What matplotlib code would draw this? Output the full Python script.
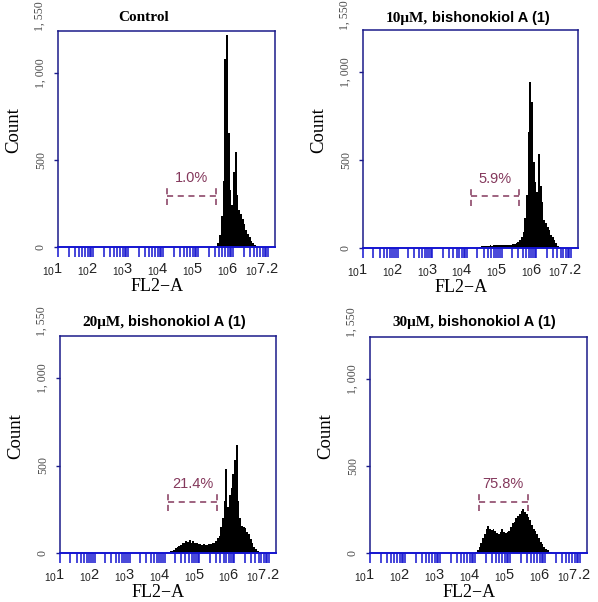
import numpy as np
import matplotlib
matplotlib.use("Agg")
import matplotlib.pyplot as plt
import matplotlib.transforms as mtransforms

# ---------------- data ----------------
BIN_W = 0.05                      # histogram bin width, in decades of FL2-A

ctrl_start = 5.45
ctrl_counts = [3, 8, 25, 70, 180, 380, 1080, 1215, 655, 330, 240, 430, 547, 300,
               210, 190, 160, 130, 100, 75, 55, 35, 22, 12, 5, 2]

c10_start = 4.35
c10_counts = [5, 10, 12, 14, 12, 14, 15, 14, 15, 16, 15, 16, 17, 16, 15, 16, 17,
              16, 18, 20, 22, 28, 35, 45, 60, 90, 170, 300, 660, 943, 830, 488,
              373, 316, 533, 352, 260, 162, 145, 120, 105, 75, 60, 48, 30, 12, 5]

c20_start = 4.05
c20_counts = [4, 8, 12, 14, 20, 28, 35, 40, 48, 55, 60, 68, 62, 72, 60, 66, 55,
              58, 50, 52, 48, 50, 47, 48, 50, 52, 55, 60, 70, 84, 100, 150, 200,
              300, 480, 265, 330, 372, 450, 534, 620, 300, 200, 155, 150, 145,
              120, 110, 80, 60, 35, 22, 10, 4]

c30_start = 4.00
c30_counts = [5, 15, 35, 55, 85, 110, 140, 155, 140, 130, 135, 125, 115, 110,
              120, 135, 120, 115, 118, 125, 150, 170, 180, 200, 215, 225, 240,
              250, 235, 225, 205, 190, 160, 140, 125, 110, 85, 65, 50, 35, 25,
              15, 8, 3]

titles_serif = ["Control", "10\u03bcM,", "20\u03bcM,", "30\u03bcM,"]
titles_sans = ["", "bishonokiol A (1)", "bishonokiol A (1)", "bishonokiol A (1)"]
gate_labels = ["1.0%", "5.9%", "21.4%", "75.8%"]
gate_lo_exp, gate_hi_exp = 4.1, 5.5
gate_y, gate_y_lo, gate_y_hi = 293, 240, 350
gate_label_y = 395

y_ticks = [0, 500, 1000]
y_tick_labels = ["0", "500", "1, 000"]
y_top_label = "1, 550"
y_max = 1240

x_exps = [1, 2, 3, 4, 5, 6, 7.2]
x_exp_labels = ["1", "2", "3", "4", "5", "6", "7.2"]
x_min_exp, x_max_exp = 1, 7.2

xlabel = "FL2\u2212A"
ylabel = "Count"

starts = [ctrl_start, c10_start, c20_start, c30_start]
counts = [ctrl_counts, c10_counts, c20_counts, c30_counts]

# ---------------- layout ----------------
W, H = 598, 602
fig = plt.figure(figsize=(W / 100, H / 100), dpi=100)
plt.rcParams["mathtext.fontset"] = "custom"
plt.rcParams["mathtext.rm"] = "Liberation Sans"

axes_px = [(58, 31, 275, 247), (363, 30, 578, 248), (60, 336, 276, 553), (370, 337, 587, 553)]
title_px = [(144, 21), (468, 22), (164, 326), (474, 326)]

navy = "#1b1b8a"
tickblue = "#1414d0"
gate_col = "#84385c"

serif = "Liberation Serif"
sans = "Liberation Sans"

for i in range(4):
    x0, y0, x1, y1 = axes_px[i]
    ax = fig.add_axes([x0 / W, 1 - y1 / H, (x1 - x0) / W, (y1 - y0) / H])
    c = np.asarray(counts[i], dtype=float)
    edges = 10 ** (starts[i] + BIN_W * np.arange(len(c) + 1))
    ax.stairs(c, edges, fill=True, color="black", linewidth=0)

    ax.set_xscale("log")
    ax.set_xlim(10 ** x_min_exp, 10 ** x_max_exp)
    ax.set_ylim(0, y_max)

    for s in ax.spines.values():
        s.set_color(navy)
        s.set_linewidth(1.1)
    ax.spines["bottom"].set_color(tickblue)
    ax.spines["bottom"].set_linewidth(1.4)

    # x ticks
    majors = [10.0 ** e for e in range(1, 8)]
    minors = [m * 10.0 ** e for e in range(1, 8) for m in range(2, 10)
              if m * 10.0 ** e <= 10 ** x_max_exp]
    ax.set_xticks(majors)
    ax.set_xticks(minors, minor=True)
    ax.tick_params(axis="x", which="both", direction="out", length=7, width=1.1,
                   color=tickblue, labelbottom=False)
    trans = mtransforms.offset_copy(ax.get_xaxis_transform(), fig=fig, x=-5, y=-23, units="dots")
    trans_last = mtransforms.offset_copy(ax.get_xaxis_transform(), fig=fig, x=3, y=-23, units="dots")
    for e, lab in zip(x_exps, x_exp_labels):
        last = (e == x_exps[-1])
        ax.text(10 ** e, 0, r"$\mathregular{_{10}}$" + lab,
                transform=trans_last if last else trans,
                ha="right" if last else "center", va="center",
                fontsize=10.5, family=sans, color="#222222")

    # y ticks
    ax.set_yticks(y_ticks)
    ax.set_yticklabels(y_tick_labels, rotation=90, va="center",
                       fontsize=8.5, family=serif, color="#4a4a4a")
    ax.tick_params(axis="y", direction="out", length=3, width=1.0, color=navy, pad=5)
    ttop = mtransforms.offset_copy(ax.get_yaxis_transform(), fig=fig, x=-18, y=0, units="dots")
    ax.text(0, y_max, y_top_label, transform=ttop, rotation=90, ha="center",
            va="bottom", fontsize=8.5, family=serif, color="#4a4a4a")

    # axis labels
    ax.text(0.455, -0.183, xlabel, transform=ax.transAxes, ha="center", va="center",
            fontsize=13, family=serif)
    ax.text(-0.205, 0.54, ylabel, transform=ax.transAxes, ha="center", va="center",
            rotation=90, fontsize=13.5, family=serif)

    # gate marker
    glo, ghi = 10 ** gate_lo_exp, 10 ** gate_hi_exp
    ax.plot([glo, ghi], [gate_y, gate_y], color=gate_col, lw=1.1, ls=(0, (4, 3)))
    ax.plot([glo, glo], [gate_y_lo, gate_y_hi], color=gate_col, lw=1.1, ls=(0, (4, 3)))
    ax.plot([ghi, ghi], [gate_y_lo, gate_y_hi], color=gate_col, lw=1.1, ls=(0, (4, 3)))
    ax.text(10 ** ((gate_lo_exp + gate_hi_exp) / 2), gate_label_y, gate_labels[i],
            ha="center", va="center", fontsize=10.5, family=sans, color=gate_col)

# titles (serif bold part + sans bold part, centred together)
fig.canvas.draw()
renderer = fig.canvas.get_renderer()
for i in range(4):
    cx, by = title_px[i]
    t1 = fig.text(0, 1 - by / H, titles_serif[i], ha="left", va="baseline",
                  fontsize=11, family=serif, weight="bold")
    w1 = t1.get_window_extent(renderer).width
    w2 = 0
    t2 = None
    gap = 4 if titles_sans[i] else 0
    if titles_sans[i]:
        t2 = fig.text(0, 1 - by / H, titles_sans[i], ha="left", va="baseline",
                      fontsize=10.5, family=sans, weight="bold")
        w2 = t2.get_window_extent(renderer).width
    total = w1 + gap + w2
    left = cx - total / 2
    t1.set_x(left / W)
    if t2 is not None:
        t2.set_x((left + w1 + gap) / W)

fig.savefig("out.png", dpi=100)
